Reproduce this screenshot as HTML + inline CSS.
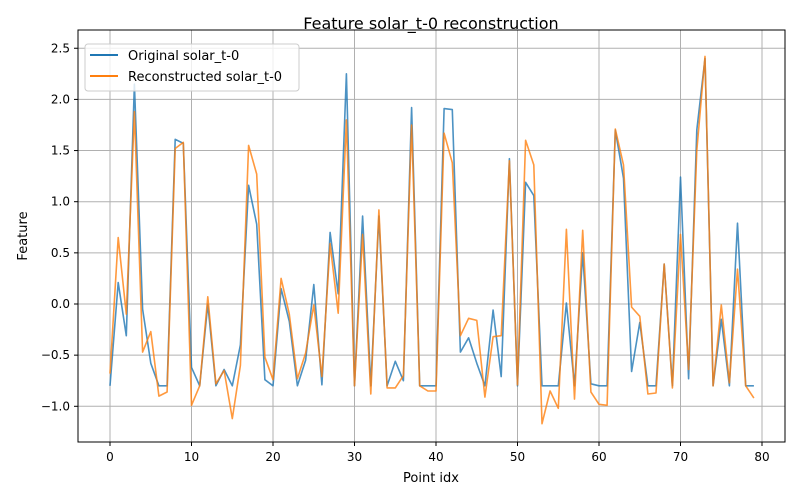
<!DOCTYPE html>
<html><head><meta charset="utf-8"><style>
body{margin:0;background:#fff;}
svg{display:block;font-family:"DejaVu Sans","Liberation Sans",sans-serif;}
</style></head><body>
<svg id="chart" width="800" height="500">
<rect x="0" y="0" width="800" height="500" fill="#fff"/>
<text x="431" y="29" text-anchor="middle" font-size="16">Feature solar_t-0 reconstruction</text>
<g id="grid"></g>
<g id="ticks"></g>
<g id="series"></g>
<rect x="78" y="30" width="707" height="412" fill="none" stroke="#000" stroke-width="1"/>
<text x="431" y="482" text-anchor="middle" font-size="13">Point idx</text>
<text x="27" y="236" text-anchor="middle" font-size="13" transform="rotate(-90 27 236)">Feature</text>
<g>
<rect x="85" y="44" width="214" height="47" rx="3" fill="#fff" fill-opacity="0.8" stroke="#ccc"/>
<line x1="90" y1="55" x2="118" y2="55" stroke="#1f77b4" stroke-width="2"/>
<text x="128" y="60" font-size="13">Original solar_t-0</text>
<line x1="90" y1="76" x2="118" y2="76" stroke="#ff7f0e" stroke-width="2"/>
<text x="128" y="81" font-size="13">Reconstructed solar_t-0</text>
</g>
</svg>
<script>
const xTicks = [0,10,20,30,40,50,60,70,80];
const yTicks = [-1.0,-0.5,0.0,0.5,1.0,1.5,2.0,2.5];
const original = [-0.80,0.21,-0.31,2.15,-0.05,-0.58,-0.80,-0.80,1.61,1.57,-0.62,-0.80,0.0,-0.80,-0.64,-0.80,-0.40,1.16,0.78,-0.74,-0.80,0.15,-0.17,-0.80,-0.55,0.19,-0.79,0.70,0.10,2.25,-0.80,0.86,-0.80,0.86,-0.80,-0.56,-0.75,1.92,-0.80,-0.80,-0.80,1.91,1.90,-0.47,-0.33,-0.58,-0.80,-0.06,-0.71,1.42,-0.80,1.19,1.06,-0.80,-0.80,-0.80,0.01,-0.80,0.50,-0.78,-0.80,-0.80,1.70,1.23,-0.66,-0.18,-0.80,-0.80,0.39,-0.80,1.24,-0.73,1.70,2.40,-0.80,-0.15,-0.80,0.79,-0.80,-0.80];
const reconstructed = [-0.68,0.65,-0.10,1.88,-0.47,-0.27,-0.90,-0.86,1.52,1.58,-0.99,-0.80,0.07,-0.78,-0.65,-1.12,-0.60,1.55,1.27,-0.52,-0.74,0.25,-0.10,-0.73,-0.48,-0.01,-0.71,0.59,-0.09,1.80,-0.80,0.68,-0.88,0.92,-0.82,-0.82,-0.70,1.75,-0.80,-0.85,-0.85,1.67,1.38,-0.31,-0.14,-0.16,-0.91,-0.32,-0.31,1.40,-0.79,1.60,1.36,-1.17,-0.85,-1.02,0.73,-0.93,0.72,-0.86,-0.98,-0.99,1.71,1.36,-0.03,-0.12,-0.88,-0.87,0.39,-0.82,0.68,-0.64,1.50,2.42,-0.80,-0.01,-0.77,0.34,-0.80,-0.92];
const NS="http://www.w3.org/2000/svg";
function xs(v){return 110+(v-0)*(762-110)/80;}
function ys(v){return 304-v*102.3;}
function mk(tag,attrs,parent){const e=document.createElementNS(NS,tag);for(const k in attrs)e.setAttribute(k,attrs[k]);parent.appendChild(e);return e;}
const grid=document.getElementById('grid'),ticks=document.getElementById('ticks'),series=document.getElementById('series');
xTicks.forEach(t=>{
  const x=xs(t);
  const g=mk('line',{x1:x,y1:30,x2:x,y2:442,stroke:'#b0b0b0','stroke-width':1},grid);
  
  
  mk('line',{x1:x,y1:442,x2:x,y2:446,stroke:'#000'},ticks);
  const tx=mk('text',{x:x,y:461,'text-anchor':'middle','font-size':12},ticks);
  tx.textContent=t;
  
  
});
yTicks.forEach(t=>{
  const y=ys(t);
  const g=mk('line',{x1:78,y1:y,x2:785,y2:y,stroke:'#b0b0b0','stroke-width':1},grid);
  
  
  mk('line',{x1:74,y1:y,x2:78,y2:y,stroke:'#000'},ticks);
  const tx=mk('text',{x:70,y:y+4,'text-anchor':'end','font-size':12},ticks);
  tx.textContent=(t<0?'\u2212':'')+Math.abs(t).toFixed(1);
  
  
});
function line(data,color,name){
  const pts=data.map((v,i)=>xs(i).toFixed(1)+','+ys(v).toFixed(1)).join(' ');
  const p=mk('polyline',{points:pts,fill:'none',stroke:color,'stroke-width':1.6,'stroke-opacity':0.8,'stroke-linejoin':'round'},series);
  
  
}
line(original,'#1f77b4','original-line');
line(reconstructed,'#ff7f0e','reconstructed-line');
</script>
</body></html>
